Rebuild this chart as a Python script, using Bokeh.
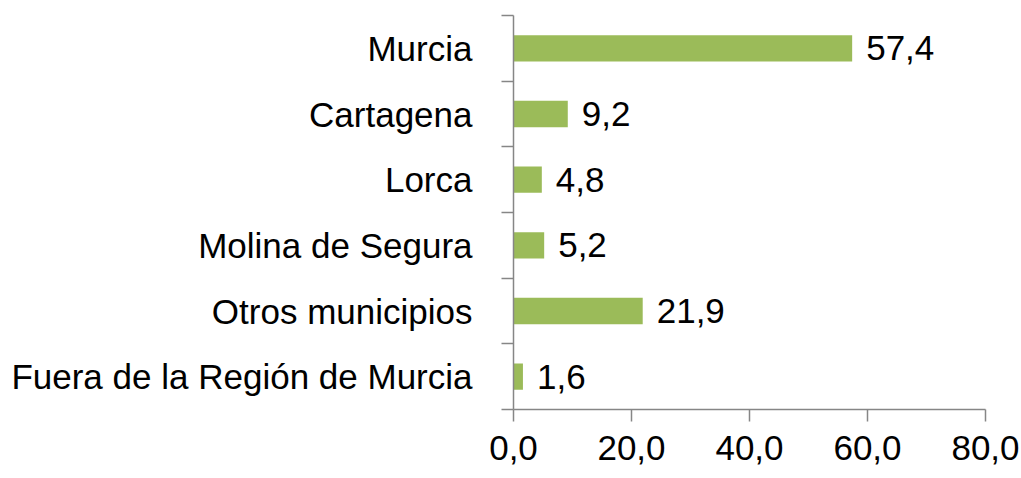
from bokeh.plotting import figure
from bokeh.models import ColumnDataSource, FixedTicker, Range1d
from bokeh.embed import file_html
from bokeh.resources import INLINE
from bokeh.core.properties import value

categories = ["Murcia", "Cartagena", "Lorca", "Molina de Segura",
              "Otros municipios", "Fuera de la Región de Murcia"]
values = [57.4, 9.2, 4.8, 5.2, 21.9, 1.6]
x_ticks = [0, 20, 40, 60, 80]
x_tick_labels = ["0,0", "20,0", "40,0", "60,0", "80,0"]

FONT = "'Liberation Sans', Arial, sans-serif"
FS = "35px"
n = len(categories)
ypos = [n - i - 0.5 for i in range(n)]
labels = [f"{v:.1f}".replace(".", ",") for v in values]

src = ColumnDataSource(dict(y=ypos, v=values, lab=labels, cat=categories))

p = figure(width=1021, height=478, output_backend="svg", toolbar_location=None,
           x_range=Range1d(0, 80), y_range=Range1d(0, n),
           min_border_left=513, min_border_right=36, min_border_top=15, min_border_bottom=69)
p.outline_line_color = None
p.grid.visible = False

p.hbar(y="y", right="v", left=0, height=0.4, source=src,
       fill_color="#9BBB59", line_color=None)
p.text(x="v", y="y", text="lab", source=src, x_offset=14,
       text_align="left", text_baseline="middle",
       text_font=value(FONT), text_font_size=FS, text_color="#000000")

ax = p.xaxis[0]
ax.ticker = FixedTicker(ticks=x_ticks, minor_ticks=[])
ax.major_label_overrides = {t: l for t, l in zip(x_ticks, x_tick_labels)}
ax.axis_line_color = "#868686"
ax.axis_line_width = 1.5
ax.major_tick_line_color = "#868686"
ax.major_tick_line_width = 1.5
ax.major_tick_out = 12
ax.major_tick_in = 0
ax.minor_tick_line_color = None
ax.major_label_standoff = 14
ax.major_label_text_font = FONT
ax.major_label_text_font_size = FS
ax.major_label_text_color = "#000000"

ay = p.yaxis[0]
ay.ticker = FixedTicker(ticks=ypos, minor_ticks=list(range(n + 1)))
ay.major_label_overrides = {y: c for y, c in zip(ypos, categories)}
ay.axis_line_color = "#868686"
ay.axis_line_width = 1.5
ay.major_tick_line_color = None
ay.major_tick_out = 0
ay.major_tick_in = 0
ay.minor_tick_line_color = "#868686"
ay.minor_tick_line_width = 1.5
ay.minor_tick_out = 12
ay.minor_tick_in = 0
ay.major_label_standoff = 29
ay.major_label_text_font = FONT
ay.major_label_text_font_size = FS
ay.major_label_text_color = "#000000"

open("out.html", "w").write(file_html(p, INLINE))
